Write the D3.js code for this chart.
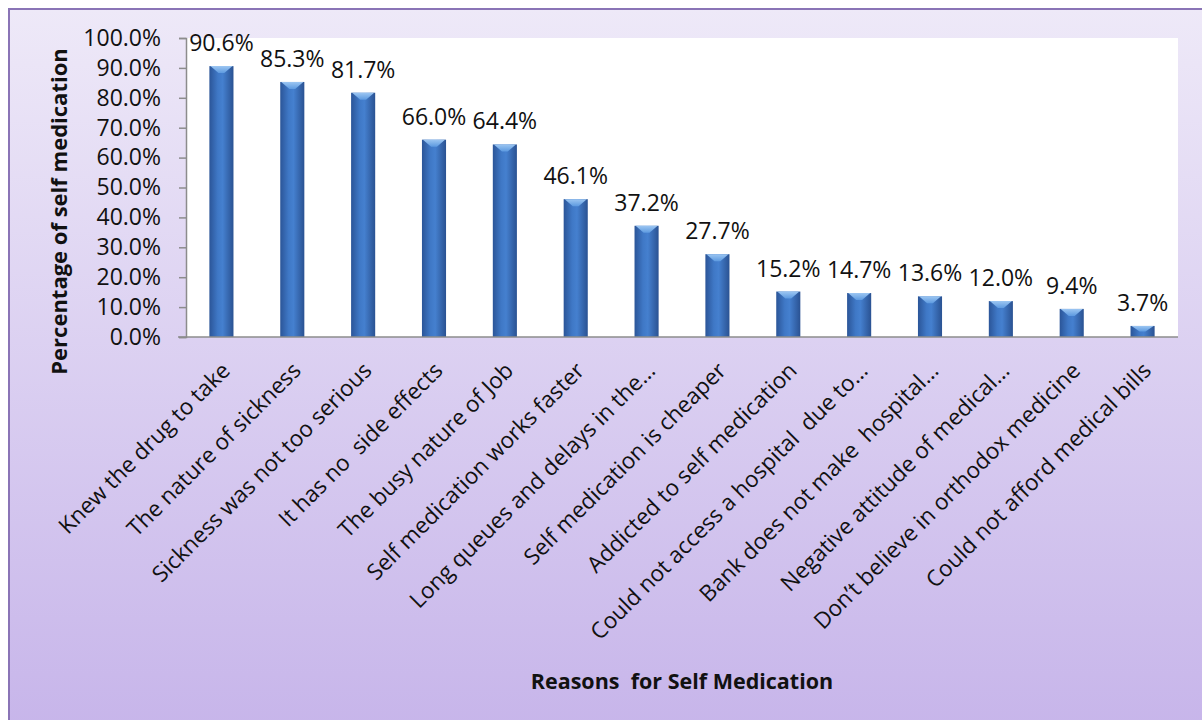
<!DOCTYPE html>
<html>
<head>
<meta charset="utf-8">
<script src="https://cdn.jsdelivr.net/npm/d3@7"></script>
<style>
  html, body { margin: 0; padding: 0; background: #fff; }
  svg { display: block; font-family: "Open Sans", sans-serif; }
</style>
</head>
<body>
<svg id="chart" width="1202" height="720"></svg>
<script>
(function() {
  'use strict';

  // Chart data
  const reasons = [
    'Knew the drug to take',
    'The nature of sickness',
    'Sickness was not too serious',
    'It has no  side effects',
    'The busy nature of Job',
    'Self medication works faster',
    'Long queues and delays in the\u2026',
    'Self medication is cheaper',
    'Addicted to self medication',
    'Could not access a hospital  due to\u2026',
    'Bank does not make  hospital\u2026',
    'Negative attitude of medical\u2026',
    'Don\u2019t believe in orthodox medicine',
    'Could not afford medical bills'
  ];
  const percents = [90.6, 85.3, 81.7, 66.0, 64.4, 46.1, 37.2, 27.7, 15.2, 14.7, 13.6, 12.0, 9.4, 3.7];
  const yTicks = [0, 10, 20, 30, 40, 50, 60, 70, 80, 90, 100];

  const svg = d3.select('#chart');
  const plot = { left: 186, right: 1178, top: 38, bottom: 337 };

  // Gradients
  const defs = svg.append('defs');
  const bg = defs.append('linearGradient').attr('id', 'bg')
    .attr('x1', 0).attr('y1', 0).attr('x2', 0).attr('y2', 1);
  bg.append('stop').attr('offset', '0%').attr('stop-color', '#eee9f8');
  bg.append('stop').attr('offset', '100%').attr('stop-color', '#c7b5ea');

  const barGrad = defs.append('linearGradient').attr('id', 'barGrad')
    .attr('x1', 0).attr('y1', 0).attr('x2', 1).attr('y2', 0);
  barGrad.append('stop').attr('offset', '0%').attr('stop-color', '#2b5598');
  barGrad.append('stop').attr('offset', '35%').attr('stop-color', '#3f78c6');
  barGrad.append('stop').attr('offset', '55%').attr('stop-color', '#4580cf');
  barGrad.append('stop').attr('offset', '100%').attr('stop-color', '#2a5292');

  const capGrad = defs.append('linearGradient').attr('id', 'capGrad')
    .attr('x1', 0).attr('y1', 0).attr('x2', 0).attr('y2', 1);
  capGrad.append('stop').attr('offset', '0%').attr('stop-color', '#9cc6f2');
  capGrad.append('stop').attr('offset', '100%').attr('stop-color', '#5d9ae0');

  // Background panel
  svg.append('rect')
    .attr('x', 9).attr('y', 9).attr('width', 1200).attr('height', 720)
    .attr('fill', 'url(#bg)')
    .attr('stroke', '#8a74b6').attr('stroke-width', 2);

  // Plot area
  svg.append('rect')
    .attr('x', plot.left).attr('y', plot.top)
    .attr('width', plot.right - plot.left).attr('height', plot.bottom - plot.top)
    .attr('fill', '#ffffff');

  const x = d3.scaleBand().domain(reasons).range([plot.left, plot.right]).paddingInner(0.66).paddingOuter(0.33);
  const y = d3.scaleLinear().domain([0, 100]).range([plot.bottom, plot.top]);

  // Y axis
  const yAxis = d3.axisLeft(y).tickValues(yTicks)
    .tickFormat(d => d.toFixed(1) + '%').tickSize(7).tickPadding(18);
  const yg = svg.append('g').attr('transform', `translate(${plot.left},0)`).call(yAxis);
  yg.select('.domain').attr('stroke', '#8c8c8c').attr('stroke-width', 1.5);
  yg.selectAll('.tick line').attr('stroke', '#8c8c8c').attr('stroke-width', 1.5);
  yg.selectAll('.tick text')
    .attr('fill', '#111').style('font-size', '23px').style('font-family', '"Open Sans", sans-serif');

  // Bars
  const bars = svg.append('g').selectAll('g.bar').data(percents).enter().append('g').attr('class', 'bar');
  bars.append('rect')
    .attr('x', (d, i) => x(reasons[i]))
    .attr('y', d => y(d))
    .attr('width', x.bandwidth())
    .attr('height', d => plot.bottom - y(d))
    .attr('fill', 'url(#barGrad)');
  bars.append('polygon')
    .attr('points', (d, i) => {
      const x0 = x(reasons[i]), w = x.bandwidth(), t = y(d);
      const h = Math.min(7, (plot.bottom - t) / 2);
      return [[x0 + 1, t], [x0 + w - 1, t], [x0 + w * 0.62, t + h], [x0 + w * 0.38, t + h]].join(' ');
    })
    .attr('fill', 'url(#capGrad)');

  // X axis line
  svg.append('line')
    .attr('x1', plot.left - 8).attr('x2', plot.right)
    .attr('y1', plot.bottom).attr('y2', plot.bottom)
    .attr('stroke', '#8c8c8c').attr('stroke-width', 1.5);

  // Value labels
  svg.append('g').selectAll('text').data(percents).enter().append('text')
    .attr('x', (d, i) => x(reasons[i]) + x.bandwidth() / 2)
    .attr('y', d => y(d) - 15)
    .attr('text-anchor', 'middle')
    .attr('fill', '#111')
    .style('font-size', '23px')
    .text(d => d.toFixed(1) + '%');

  // Category labels
  svg.append('g').selectAll('text').data(reasons).enter().append('text')
    .attr('transform', d => `translate(${x(d) + x.bandwidth() / 2 + 10},${plot.bottom + 35}) rotate(-45)`)
    .attr('text-anchor', 'end')
    .attr('fill', '#111')
    .style('font-size', '22.5px')
    .style('white-space', 'pre')
    .text(d => d);

  // Axis titles
  svg.append('text')
    .attr('transform', `translate(67,${(50 + 373) / 2}) rotate(-90)`)
    .attr('text-anchor', 'middle')
    .attr('fill', '#111')
    .style('font-size', '22px').style('font-weight', 'bold')
    .text('Percentage of self medication');

  svg.append('text')
    .attr('x', 682).attr('y', 689)
    .attr('text-anchor', 'middle')
    .attr('fill', '#111')
    .style('font-size', '21.5px').style('font-weight', 'bold')
    .style('white-space', 'pre')
    .text('Reasons  for Self Medication');
})();
</script>
</body>
</html>
